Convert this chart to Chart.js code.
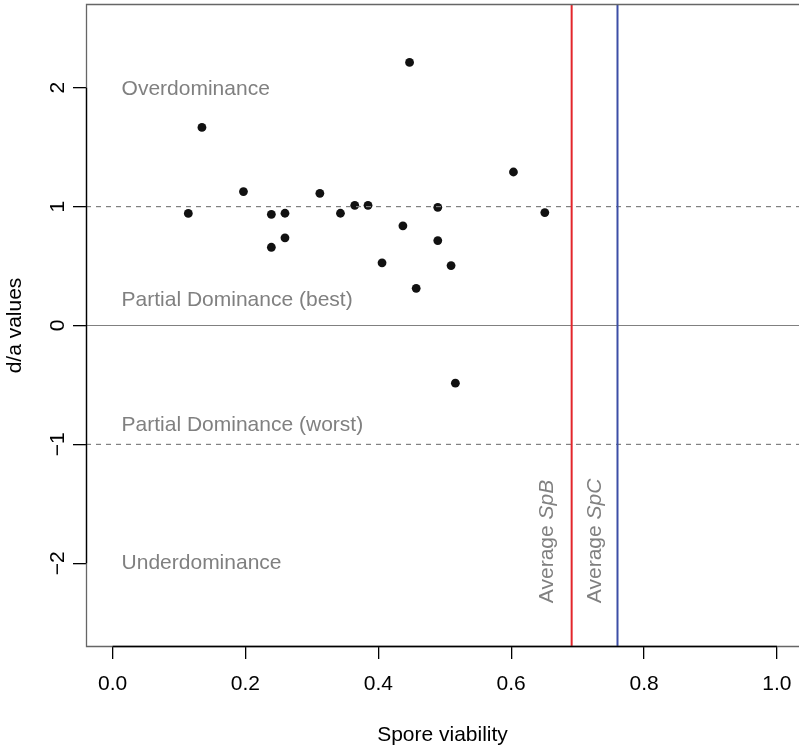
<!DOCTYPE html>
<html>
<head>
<meta charset="utf-8">
<script src="https://cdn.jsdelivr.net/npm/chart.js@4/dist/chart.umd.min.js"></script>
<style>
  html, body { margin: 0; padding: 0; background: #fff; }
  canvas { display: block; }
</style>
</head>
<body>
<canvas id="chart" width="799" height="748"></canvas>
<script>
// ===== DATA =====
const viability = [0.114, 0.1345, 0.197, 0.239, 0.2595, 0.239, 0.2595, 0.312, 0.343, 0.3645, 0.3845,
    0.4056, 0.437, 0.447, 0.4895, 0.4895, 0.5095, 0.457, 0.6034, 0.6506, 0.516];
const daValues = [0.943, 1.666, 1.126, 0.935, 0.944, 0.658, 0.737, 1.112, 0.944, 1.011, 1.011,
    0.527, 0.838, 2.213, 0.994, 0.714, 0.504, 0.313, 1.291, 0.950, -0.485];

const dashedLevels = [1, -1];
const solidLevels = [0];
const avgSpB = 0.691;
const avgSpC = 0.760;

const xTicks = [0, 0.2, 0.4, 0.6, 0.8, 1.0];
const yTicks = [-2, -1, 0, 1, 2];
const xLim = [-0.04, 1.0332];
const yLim = [-2.704, 2.704];

const regionLabels = ['Overdominance', 'Partial Dominance (best)', 'Partial Dominance (worst)', 'Underdominance'];
const regionLabelY = [1.99, 0.21, -0.835, -2.0];
const avgLabels = [['Average ', 'SpB'], ['Average ', 'SpC']];
const avgLabelX = [0.663, 0.735];
const avgLabelY = -2.335;

const FONT = '"Liberation Sans", Arial, Helvetica, sans-serif';
const GREY = '#808080';

function hLine(y) { return [{ x: xLim[0], y: y }, { x: xLim[1], y: y }]; }
function vLine(x) { return [{ x: x, y: yLim[0] }, { x: x, y: yLim[1] }]; }

const datasets = [
    { data: vLine(avgSpB), showLine: true, borderColor: '#e3262b', borderWidth: 2, pointRadius: 0 },
    { data: vLine(avgSpC), showLine: true, borderColor: '#3c4ea6', borderWidth: 2, pointRadius: 0 },
];
dashedLevels.forEach(v => datasets.push({
    data: hLine(v), showLine: true, borderColor: GREY, borderWidth: 1.2, borderDash: [5, 5], pointRadius: 0
}));
solidLevels.forEach(v => datasets.push({
    data: hLine(v), showLine: true, borderColor: GREY, borderWidth: 1.2, pointRadius: 0
}));
datasets.push({
    data: viability.map((x, i) => ({ x: x, y: daValues[i] })),
    showLine: false, pointRadius: 4.4, pointBorderWidth: 0,
    pointBackgroundColor: '#111', pointBorderColor: '#111'
});

// no extra padding from tick labels, chart area is fixed by the axis sizes
function noPad(s) {
    s.paddingTop = 0; s.paddingBottom = 0; s.paddingLeft = 0; s.paddingRight = 0;
}

// ===== BOX, AXIS LINES, TEXT =====
const decorations = {
    id: 'decorations',
    afterDatasetsDraw(chart) {
        const ctx = chart.ctx;
        const a = chart.chartArea;
        const xs = chart.scales.x, ys = chart.scales.y;
        ctx.save();
        // grey box
        ctx.strokeStyle = '#666';
        ctx.lineWidth = 1.3;
        ctx.beginPath();
        ctx.moveTo(a.right + 5, a.top + 0.5);
        ctx.lineTo(a.left + 0.5, a.top + 0.5);
        ctx.lineTo(a.left + 0.5, a.bottom - 0.5);
        ctx.lineTo(a.right + 5, a.bottom - 0.5);
        ctx.stroke();
        // black axis lines between first and last tick
        ctx.strokeStyle = '#000';
        ctx.beginPath();
        ctx.moveTo(a.left + 0.5, ys.getPixelForValue(yTicks[yTicks.length - 1]));
        ctx.lineTo(a.left + 0.5, ys.getPixelForValue(yTicks[0]));
        ctx.moveTo(xs.getPixelForValue(xTicks[0]), a.bottom - 0.5);
        ctx.lineTo(xs.getPixelForValue(xTicks[xTicks.length - 1]), a.bottom - 0.5);
        ctx.stroke();

        // region labels
        ctx.fillStyle = GREY;
        ctx.font = '21px ' + FONT;
        ctx.textAlign = 'left';
        ctx.textBaseline = 'middle';
        const x0 = xs.getPixelForValue(0) + 9;
        regionLabels.forEach((t, i) => ctx.fillText(t, x0, ys.getPixelForValue(regionLabelY[i])));

        // rotated average labels
        ctx.textBaseline = 'alphabetic';
        avgLabels.forEach((parts, i) => {
            ctx.save();
            ctx.translate(xs.getPixelForValue(avgLabelX[i]), ys.getPixelForValue(avgLabelY));
            ctx.rotate(-Math.PI / 2);
            ctx.font = '21px ' + FONT;
            ctx.fillText(parts[0], 0, 0);
            const w = ctx.measureText(parts[0]).width;
            ctx.font = 'italic 21px ' + FONT;
            ctx.fillText(parts[1], w, 0);
            ctx.restore();
        });
        ctx.restore();
    }
};

new Chart(document.getElementById('chart'), {
    type: 'scatter',
    data: { datasets: datasets },
    options: {
        responsive: false,
        devicePixelRatio: 1,
        animation: false,
        layout: { autoPadding: false, padding: { top: 4, left: 0, right: 0, bottom: 0 } },
        plugins: { legend: { display: false }, tooltip: { enabled: false } },
        scales: {
            x: {
                type: 'linear',
                min: xLim[0], max: xLim[1],
                afterFit: s => { s.height = 101; noPad(s); },
                afterBuildTicks: s => { s.ticks = xTicks.map(v => ({ value: v })); },
                border: { display: false },
                grid: { drawOnChartArea: false, drawTicks: true, tickLength: 12, color: '#000', lineWidth: 1.3 },
                ticks: {
                    color: '#000', padding: 13, maxRotation: 0, minRotation: 0,
                    font: { family: FONT, size: 21 },
                    callback: v => v.toFixed(1)
                },
                title: {
                    display: true, text: 'Spore viability', color: '#000',
                    font: { family: FONT, size: 21 }, padding: { top: 0, bottom: 0 }
                }
            },
            y: {
                type: 'linear',
                min: yLim[0], max: yLim[1],
                afterFit: s => { s.width = 86; noPad(s); },
                afterBuildTicks: s => { s.ticks = yTicks.map(v => ({ value: v })); },
                border: { display: false },
                grid: { drawOnChartArea: false, drawTicks: true, tickLength: 13, color: '#000', lineWidth: 1.3 },
                ticks: {
                    color: '#000', padding: 3, minRotation: 90, maxRotation: 90, crossAlign: 'center',
                    font: { family: FONT, size: 21 },
                    callback: v => (v < 0 ? '\u2212' + Math.abs(v) : String(v))
                },
                title: {
                    display: true, text: 'd/a values', color: '#000',
                    font: { family: FONT, size: 21 }, padding: { top: 3, bottom: 0 }
                }
            }
        }
    },
    plugins: [decorations]
});
</script>
</body>
</html>
